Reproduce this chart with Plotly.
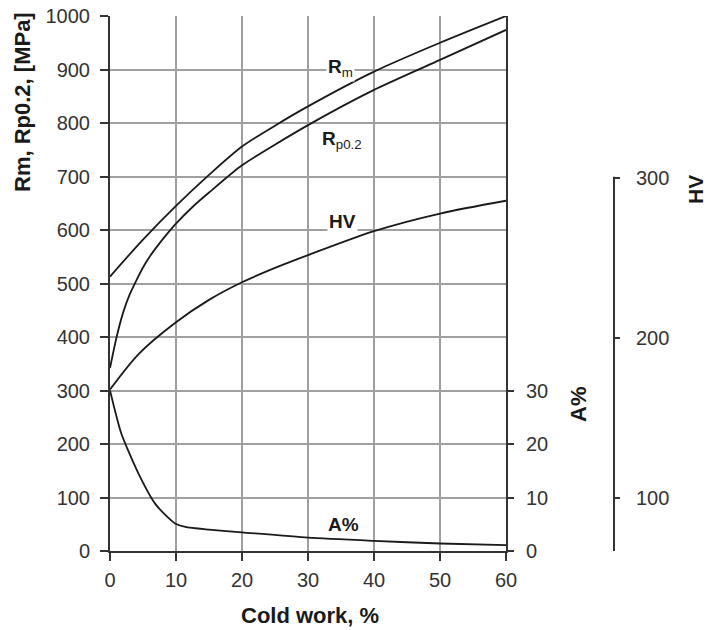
import plotly.graph_objects as go

# ---- data ----
rm_x = [0, 5, 10, 15, 20, 25, 30, 40, 50, 60]
rm_y = [513, 582, 645, 703, 756, 795, 831, 896, 950, 1000]

rp_x = [0, 1, 2, 3, 4, 5, 6, 7, 8, 9, 10, 12.5, 15, 20, 30, 40, 50, 60]
rp_y = [342, 400, 446, 480, 506, 530, 550, 567, 583, 598, 612, 643, 670, 721, 796, 862, 918, 974]

hv_x = [0, 4.3, 10, 15, 20, 25, 30, 40, 50, 60]
hv_y = [168, 190, 210, 224, 235, 244, 252, 267, 278, 286]

a_x = [0, 1.7, 4.3, 6.8, 8.5, 9.8, 11.4, 15, 20, 30, 40, 50, 60]
a_y = [30, 22, 14.5, 8.9, 6.6, 5.2, 4.5, 4.0, 3.5, 2.5, 1.9, 1.4, 1.1]

x_ticks = [0, 10, 20, 30, 40, 50, 60]
left_ticks = [0, 100, 200, 300, 400, 500, 600, 700, 800, 900, 1000]
a_ticks = [0, 10, 20, 30]
hv_ticks = [100, 200, 300]

FONT = "Liberation Sans, Arial, sans-serif"
LINE = dict(color="#1a1a1a", width=1.8)
TICKFONT = dict(family=FONT, size=20, color="#333")

fig = go.Figure()
fig.add_trace(go.Scatter(x=rm_x, y=rm_y, mode="lines", line=dict(**LINE, shape="spline", smoothing=0.8), yaxis="y"))
fig.add_trace(go.Scatter(x=rp_x, y=rp_y, mode="lines", line=dict(**LINE, shape="spline", smoothing=0.6), yaxis="y"))
fig.add_trace(go.Scatter(x=hv_x, y=hv_y, mode="lines", line=dict(**LINE, shape="spline", smoothing=0.8), yaxis="y3"))
fig.add_trace(go.Scatter(x=a_x, y=a_y, mode="lines", line=dict(**LINE, shape="spline", smoothing=0.6), yaxis="y2"))

W, H = 708, 630
L, R, T, B = 110, 40, 16, 79
paper_w = W - L - R
x_end = 396 / paper_w
hv_pos = (614 - L) / paper_w

fig.update_layout(
    width=W, height=H,
    margin=dict(l=L, r=R, t=T, b=B, autoexpand=False),
    paper_bgcolor="white", plot_bgcolor="white",
    showlegend=False,
    font=dict(family=FONT, size=20, color="#333"),
    xaxis=dict(domain=[0, x_end], range=[0, 60], tickvals=x_ticks,
               showgrid=True, gridcolor="#a0a0a0", gridwidth=1.6,
               showline=True, linecolor="#333", linewidth=2,
               ticks="outside", ticklen=8, tickcolor="#333", tickwidth=1.5,
               ticklabelstandoff=2, automargin=False,
               zeroline=False, tickfont=TICKFONT),
    yaxis=dict(range=[0, 1000], tickvals=left_ticks,
               showgrid=True, gridcolor="#a0a0a0", gridwidth=1.6,
               showline=True, linecolor="#333", linewidth=2, mirror=True,
               ticks="outside", ticklen=8, tickcolor="#333", tickwidth=1.5,
               ticklabelstandoff=6, automargin=False,
               zeroline=False, tickfont=TICKFONT),
    yaxis2=dict(range=[0, 100], tickvals=a_ticks, overlaying="y", side="right",
                anchor="x", showgrid=False, showline=False, zeroline=False,
                ticks="outside", ticklen=7, tickcolor="#333", tickwidth=1.5,
                ticklabelstandoff=8, automargin=False, tickfont=TICKFONT),
    yaxis3=dict(range=[67, 401.5], tickvals=hv_ticks, overlaying="y", side="right",
                anchor="free", position=hv_pos, showgrid=False, showline=False,
                zeroline=False, ticks="outside", ticklen=5, tickcolor="#333",
                tickwidth=1.5, ticklabelstandoff=12, automargin=False,
                tickfont=TICKFONT),
)

# HV axis line limited to its tick span
fig.add_shape(type="line", xref="paper", yref="y3", x0=hv_pos, x1=hv_pos,
              y0=67, y1=301, line=dict(color="#333", width=2))

title_font = dict(family=FONT, size=22, color="#1a1a1a")
ann = [
    dict(text="<b>Rm, Rp0.2, [MPa]</b>", x=22, y=102, textangle=-90, size=22),
    dict(text="<b>Cold work, %</b>", x=310, y=615, textangle=0, size=22),
    dict(text="<b>A%</b>", x=578, y=405, textangle=-90, size=22),
    dict(text="<b>HV</b>", x=695, y=190, textangle=-90, size=21),
]
for a in ann:
    fig.add_annotation(text=a["text"], xref="paper", yref="paper",
                       x=(a["x"] - L) / paper_w, y=1 - (a["y"] - T) / (H - T - B),
                       textangle=a["textangle"], showarrow=False,
                       xanchor="center", yanchor="middle",
                       font=dict(family=FONT, size=a["size"], color="#1a1a1a"))

# curve labels (white background breaks the gridlines)
labels = [
    ("<b>R</b><sub>m</sub>", 340, 68),
    ("<b>R</b><sub>p0.2</sub>", 342, 140),
    ("<b>HV</b>", 342, 222),
    ("<b>A%</b>", 343, 524),
]
for txt, px, py in labels:
    fig.add_annotation(text=txt, xref="paper", yref="paper",
                       x=(px - L) / paper_w, y=1 - (py - T) / (H - T - B),
                       showarrow=False, xanchor="center", yanchor="middle",
                       bgcolor="white", borderpad=1,
                       font=dict(family=FONT, size=19, color="#1a1a1a"))

fig.write_html("out.html")
